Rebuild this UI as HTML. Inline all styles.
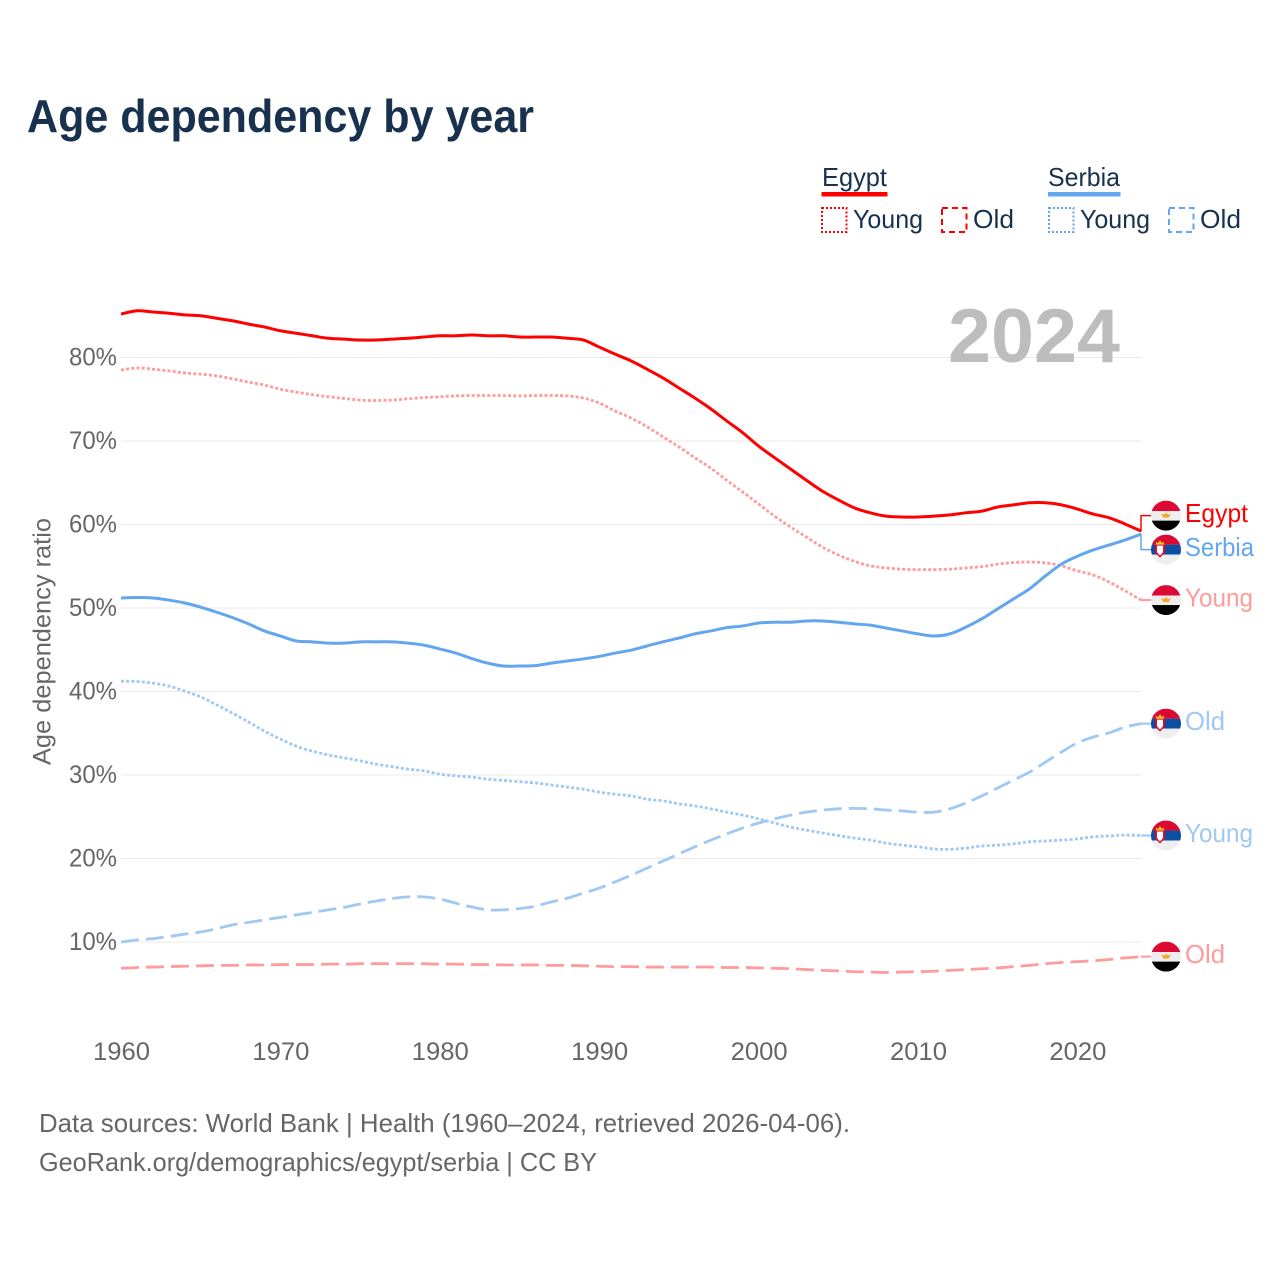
<!DOCTYPE html>
<html lang="en">
<head>
<meta charset="utf-8">
<title>Age dependency by year</title>
<style>
html,body{margin:0;padding:0;background:#fff;width:1280px;height:1280px;overflow:hidden}
svg{display:block}
text{font-family:"Liberation Sans",Arial,sans-serif}
</style>
</head>
<body>
<svg id="chart" width="1280" height="1280" viewBox="0 0 1280 1280" xmlns="http://www.w3.org/2000/svg">
  <defs>
    <clipPath id="flag-clip"><circle cx="0" cy="0" r="15"/></clipPath>
    <symbol id="flag-egypt" overflow="visible">
      <g clip-path="url(#flag-clip)">
        <rect x="-15" y="-15" width="30" height="10.5" fill="#dc0a32"/>
        <rect x="-15" y="-4.5" width="30" height="9.5" fill="#eeeeee"/>
        <rect x="-15" y="5" width="30" height="10" fill="#000000"/>
        <path d="M-5 -2 L-2 -1 L0 -3 L2 -1 L5 -2 L2.500 2 L-2.500 2 Z" fill="#f5a623"/>
      </g>
    </symbol>
    <symbol id="flag-serbia" overflow="visible">
      <g clip-path="url(#flag-clip)">
        <rect x="-15" y="-15" width="30" height="10" fill="#dc0a32"/>
        <rect x="-15" y="-5" width="30" height="10" fill="#0b4ea2"/>
        <rect x="-15" y="5" width="30" height="10" fill="#eeeeee"/>
        <path d="M-11 -5 L-1 -5 L-1 3 L-6 8 L-11 3 Z" fill="#dc0a32"/>
        <path d="M-9 -4 L-3 -4 L-3 2.500 L-6 6 L-9 2.500 Z" fill="#ffffff"/>
        <path d="M-10 -5 L-10 -8 L-8 -6.500 L-6 -9.500 L-4 -6.500 L-2 -8 L-2 -5 Z" fill="#f5c518"/>
      </g>
    </symbol>
  </defs>

  <text x="27" y="132" font-size="46" font-weight="700" fill="#18314f" textLength="507" lengthAdjust="spacingAndGlyphs">Age dependency by year</text>

  <g id="grid"></g>
  <g id="ytick-labels"></g>
  <g id="xtick-labels"></g>

  <text transform="translate(50.5 641.5) rotate(-90)" text-anchor="middle" font-size="25" fill="#666666" textLength="247" lengthAdjust="spacingAndGlyphs">Age dependency ratio</text>

  <text x="948" y="362" font-size="76" font-weight="700" fill="#bdbdbd" textLength="172" lengthAdjust="spacingAndGlyphs">2024</text>

  <g fill="#18314f" font-size="26">
    <g>
      <text x="822" y="186" textLength="65" lengthAdjust="spacingAndGlyphs">Egypt</text>
      <rect x="821.500" y="192" width="66" height="4.500" fill="#ff0000"/>
      <rect x="822" y="208" width="24.500" height="24" fill="none" stroke="#ff0000" stroke-width="2" stroke-dasharray="2 2"/>
      <text x="853" y="228" textLength="70" lengthAdjust="spacingAndGlyphs">Young</text>
      <rect x="942" y="208" width="24.500" height="24" fill="none" stroke="#ff0000" stroke-width="2" stroke-dasharray="6 4"/>
      <text x="973" y="228" textLength="41" lengthAdjust="spacingAndGlyphs">Old</text>
    </g>
    <g>
      <text x="1048" y="186" textLength="72" lengthAdjust="spacingAndGlyphs">Serbia</text>
      <rect x="1048" y="192" width="72.500" height="4.500" fill="#63a5ee"/>
      <rect x="1049" y="208" width="24.500" height="24" fill="none" stroke="#63a5ee" stroke-width="2" stroke-dasharray="2 2"/>
      <text x="1080" y="228" textLength="70" lengthAdjust="spacingAndGlyphs">Young</text>
      <rect x="1169" y="208" width="24.500" height="24" fill="none" stroke="#63a5ee" stroke-width="2" stroke-dasharray="6 4"/>
      <text x="1200" y="228" textLength="41" lengthAdjust="spacingAndGlyphs">Old</text>
    </g>
  </g>

  <g id="series"></g>
  <g id="end-labels"></g>

  <text x="39" y="1132" font-size="26" fill="#666666" textLength="811" lengthAdjust="spacingAndGlyphs">Data sources: World Bank | Health (1960–2024, retrieved 2026-04-06).</text>
  <text x="39" y="1171" font-size="26" fill="#666666" textLength="558" lengthAdjust="spacingAndGlyphs">GeoRank.org/demographics/egypt/serbia | CC BY</text>
</svg>

<script>
const startYear = 1960;
const yTicks = [10, 20, 30, 40, 50, 60, 70, 80];
const yTickLabels = ["10%", "20%", "30%", "40%", "50%", "60%", "70%", "80%"];
const xTicks = [1960, 1970, 1980, 1990, 2000, 2010, 2020];

const egyptTotal = [85.2,85.6,85.45,85.3,85.1,85.0,84.7,84.4,84.0,83.65,83.2,82.9,82.6,82.3,82.2,82.1,82.1,82.2,82.3,82.45,82.6,82.6,82.7,82.6,82.6,82.45,82.45,82.45,82.3,82.1,81.25,80.4,79.6,78.6,77.55,76.35,75.15,73.85,72.4,71.0,69.4,68.0,66.65,65.3,64.0,62.95,62.0,61.4,61.0,60.9,60.9,61.0,61.15,61.4,61.6,62.1,62.35,62.6,62.6,62.35,61.85,61.25,60.8,60.05,59.2];
const egyptYoung = [78.5,78.75,78.6,78.4,78.15,78.0,77.8,77.45,77.05,76.7,76.2,75.85,75.55,75.3,75.1,74.9,74.85,74.9,75.05,75.2,75.3,75.4,75.45,75.45,75.45,75.4,75.45,75.45,75.4,75.15,74.55,73.6,72.75,71.7,70.5,69.3,68.0,66.75,65.3,63.9,62.45,61.0,59.7,58.5,57.3,56.35,55.6,55.05,54.8,54.65,54.6,54.6,54.65,54.8,54.95,55.25,55.45,55.5,55.4,55.05,54.45,53.95,53.1,52.05,50.95];
const egyptOld = [6.85,6.95,7.0,7.05,7.1,7.15,7.2,7.2,7.25,7.25,7.3,7.3,7.3,7.35,7.35,7.4,7.4,7.4,7.4,7.4,7.35,7.35,7.3,7.3,7.25,7.25,7.25,7.2,7.2,7.15,7.1,7.05,7.05,7.0,7.0,7.0,7.0,7.0,6.95,6.95,6.9,6.85,6.8,6.7,6.6,6.55,6.45,6.4,6.35,6.4,6.45,6.5,6.6,6.7,6.8,6.9,7.05,7.2,7.4,7.55,7.65,7.75,7.9,8.1,8.25];
const serbiaTotal = [51.2,51.25,51.2,50.95,50.6,50.1,49.5,48.85,48.1,47.25,46.65,46.05,45.95,45.8,45.8,45.95,45.95,45.95,45.8,45.55,45.1,44.6,43.95,43.4,43.05,43.05,43.1,43.4,43.65,43.9,44.2,44.6,44.95,45.45,45.95,46.4,46.9,47.25,47.65,47.85,48.2,48.3,48.3,48.45,48.45,48.3,48.1,47.95,47.6,47.25,46.9,46.65,46.9,47.7,48.7,49.9,51.1,52.3,53.85,55.25,56.2,56.95,57.55,58.15,58.85];
const serbiaYoung = [41.25,41.2,41.0,40.65,40.05,39.35,38.4,37.4,36.35,35.25,34.3,33.45,32.85,32.4,32.05,31.7,31.3,31.0,30.7,30.5,30.1,29.9,29.75,29.5,29.35,29.2,29.05,28.8,28.55,28.3,27.95,27.7,27.5,27.1,26.9,26.55,26.3,25.95,25.55,25.2,24.75,24.25,23.75,23.4,23.05,22.75,22.45,22.2,21.85,21.6,21.4,21.15,21.1,21.25,21.5,21.6,21.75,22.0,22.1,22.2,22.35,22.6,22.7,22.8,22.75];
const serbiaOld = [10.0,10.25,10.4,10.65,10.95,11.2,11.6,12.05,12.35,12.65,12.95,13.25,13.55,13.85,14.15,14.55,14.9,15.2,15.4,15.4,15.15,14.65,14.2,13.85,13.85,14.0,14.3,14.8,15.25,15.85,16.45,17.2,18.0,18.85,19.7,20.55,21.4,22.2,22.95,23.65,24.25,24.75,25.2,25.55,25.8,25.95,26.0,25.95,25.8,25.7,25.55,25.55,25.95,26.65,27.5,28.45,29.4,30.35,31.55,32.75,33.85,34.55,35.05,35.75,36.15];

const NS = "http://www.w3.org/2000/svg";
function xScale(year) { return 121 + (year - 1960) * 15.94; }
function yScale(v) { return 942 - (v - 10) * 8.35; }
function make(tag, parent, attrs) {
  const el = document.createElementNS(NS, tag);
  for (const k in attrs) el.setAttribute(k, attrs[k]);
  parent.appendChild(el);
  return el;
}
function smoothPath(pts) {
  let d = "M" + pts[0][0].toFixed(2) + " " + pts[0][1].toFixed(2);
  for (let i = 0; i < pts.length - 1; i++) {
    const p0 = pts[Math.max(i - 1, 0)], p1 = pts[i], p2 = pts[i + 1], p3 = pts[Math.min(i + 2, pts.length - 1)];
    const c1x = p1[0] + (p2[0] - p0[0]) / 6, c1y = p1[1] + (p2[1] - p0[1]) / 6;
    const c2x = p2[0] - (p3[0] - p1[0]) / 6, c2y = p2[1] - (p3[1] - p1[1]) / 6;
    d += "C" + c1x.toFixed(2) + " " + c1y.toFixed(2) + " " + c2x.toFixed(2) + " " + c2y.toFixed(2) + " " + p2[0].toFixed(2) + " " + p2[1].toFixed(2);
  }
  return d;
}

const grid = document.getElementById("grid");
const yLabels = document.getElementById("ytick-labels");
const xLabels = document.getElementById("xtick-labels");

yTicks.forEach(function (t, i) {
  const line = make("line", grid, {x1: 121, x2: 1141, y1: yScale(t), y2: yScale(t), stroke: "#e9e9e9", "stroke-width": 1});
  
  
  const label = make("text", yLabels, {x: 117, y: yScale(t) + 8, "text-anchor": "end", "font-size": 25, fill: "#666666", textLength: 48, lengthAdjust: "spacingAndGlyphs"});
  
  
  label.textContent = yTickLabels[i];
});

xTicks.forEach(function (t) {
  const label = make("text", xLabels, {x: xScale(t) + 0.5, y: 1060, "text-anchor": "middle", "font-size": 25, fill: "#666666", textLength: 57, lengthAdjust: "spacingAndGlyphs"});
  
  
  label.textContent = t;
});

const seriesList = [
  {key: "egypt-old", values: egyptOld, color: "#ff9b9b", dash: "18 7", width: 2.8, flag: "flag-egypt", label: "Old", labelWidth: 40},
  {key: "serbia-old", values: serbiaOld, color: "#9fc8f4", dash: "18 7", width: 2.8, flag: "flag-serbia", label: "Old", labelWidth: 40},
  {key: "egypt-young", values: egyptYoung, color: "#ff9b9b", dash: "3 2.2", width: 2.8, flag: "flag-egypt", label: "Young", labelWidth: 68},
  {key: "serbia-young", values: serbiaYoung, color: "#9fc8f4", dash: "3 2.2", width: 2.8, flag: "flag-serbia", label: "Young", labelWidth: 68},
  {key: "egypt-total", values: egyptTotal, color: "#ff0000", dash: "", width: 3, flag: "flag-egypt", label: "Egypt", labelWidth: 63},
  {key: "serbia-total", values: serbiaTotal, color: "#63a5ee", dash: "", width: 3, flag: "flag-serbia", label: "Serbia", labelWidth: 69}
];

const seriesGroup = document.getElementById("series");
seriesList.forEach(function (s) {
  const pts = s.values.map(function (v, i) {
    return [xScale(startYear + i), yScale(v)];
  });
  const attrs = {d: smoothPath(pts), fill: "none", stroke: s.color, "stroke-width": s.width, "stroke-linejoin": "round"};
  if (s.dash) attrs["stroke-dasharray"] = s.dash;
  const line = make("path", seriesGroup, attrs);
  
  
});

/* End labels: anchored to each series' last value, pushed apart when they would collide. */
const endItems = seriesList.map(function (s) {
  const endY = yScale(s.values[s.values.length - 1]);
  return {s: s, endY: endY, labelY: endY};
}).sort(function (a, b) { return a.endY - b.endY; });
const minGap = 34;
for (let i = 1; i < endItems.length; i++) {
  const gap = endItems[i].labelY - endItems[i - 1].labelY;
  if (gap < minGap) {
    const push = (minGap - gap) / 2;
    endItems[i - 1].labelY -= push;
    endItems[i].labelY += push;
  }
}

const endGroup = document.getElementById("end-labels");
endItems.forEach(function (item) {
  const s = item.s;
  const attrs = {points: "1141," + item.endY.toFixed(1) + " 1141," + item.labelY.toFixed(1) + " 1152," + item.labelY.toFixed(1), fill: "none", stroke: s.color, "stroke-width": s.dash ? 2 : 1.5};
  if (Math.abs(item.labelY - item.endY) < 3) {
    attrs.points = "1141," + item.endY.toFixed(1) + " 1152," + item.labelY.toFixed(1);
  }
  const connector = make("polyline", endGroup, attrs);
  
  

  const flag = make("use", endGroup, {href: "#" + s.flag, x: 1166, y: item.labelY});
  
  

  const label = make("text", endGroup, {x: 1185, y: item.labelY + 6.5, "font-size": 26, fill: s.color, textLength: s.labelWidth, lengthAdjust: "spacingAndGlyphs"});
  
  
  label.textContent = s.label;
});
</script>
</body>
</html>
